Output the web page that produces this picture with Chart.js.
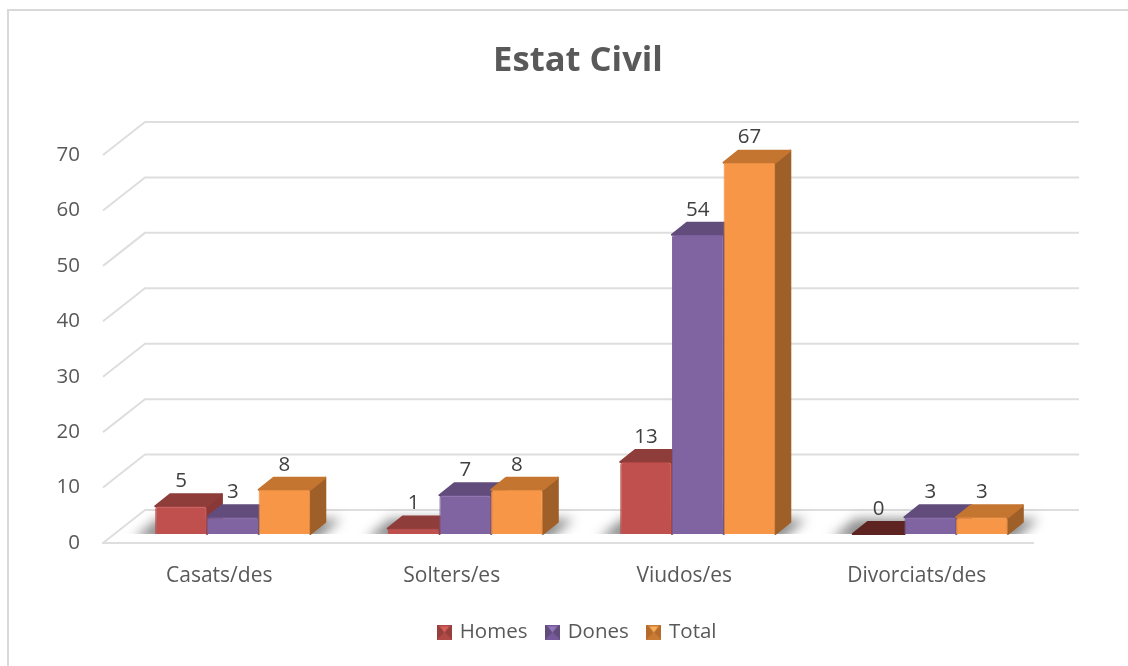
<!DOCTYPE html>
<html>
<head>
<meta charset="utf-8">
<title>Estat Civil</title>
<script src="https://cdn.jsdelivr.net/npm/chart.js@4"></script>
<style>
    html, body { margin: 0; padding: 0; background: #fff; overflow: hidden; }
    canvas { display: block; filter: blur(0.4px); }
</style>
</head>
<body>
<canvas id="myChart" width="1128" height="666"></canvas>
<script>
const categories = ['Casats/des', 'Solters/es', 'Viudos/es', 'Divorciats/des']
const homes = [5, 1, 13, 0]
const dones = [3, 7, 54, 3]
const total = [8, 8, 67, 3]

const frontColors = ['#c0504d', '#8064a2', '#f79646']
const edgeColors = ['#b04643', '#745a95', '#e88a3e']
const topColors = ['#8f3d3b', '#614c7c', '#c4752f']
const sideColors = ['#8a3836', '#5c4877', '#9f5f29']
const zeroColors = ['#5e2422', '#41324f', '#7a4516']

const font = 'Open Sans'
const gridColor = '#dedede'

// the bars stand a bit inside the floor, the wall is further back
const barShift = { x: 13.5, y: -9 }
const barDepth = { x: 15, y: -12 }
const wallLeft = { x: 42, y: -33 }
const wallRight = { x: 46, y: -33 }

const makeSwatch = (front, dark, light) => {
    let c = document.createElement('canvas')
    c.width = 15
    c.height = 15
    let g = c.getContext('2d')
    g.fillStyle = front
    g.fillRect(0, 0, 15, 15)
    g.fillStyle = dark
    g.beginPath()
    g.moveTo(0, 0); g.lineTo(7.5, 7.5); g.lineTo(0, 15); g.closePath()
    g.moveTo(15, 0); g.lineTo(7.5, 7.5); g.lineTo(15, 15); g.closePath()
    g.fill()
    g.fillStyle = light
    g.beginPath()
    g.moveTo(3, 2); g.lineTo(12, 2); g.lineTo(7.5, 8); g.closePath()
    g.fill()
    return c
}

const swatches = [
    makeSwatch('#b04a47', '#963f3d', '#d4605c'),
    makeSwatch('#75599a', '#614c7c', '#9377b8'),
    makeSwatch('#c97a33', '#b56c2b', '#fbb15c')
]

const drawFace = (ctx, points, color) => {
    ctx.fillStyle = color
    ctx.strokeStyle = color
    ctx.lineWidth = 2
    ctx.lineJoin = 'round'
    ctx.beginPath()
    points.forEach((p, i) => i ? ctx.lineTo(p[0], p[1]) : ctx.moveTo(p[0], p[1]))
    ctx.closePath()
    ctx.fill()
    ctx.stroke()
}

const wallPlugin = {
    id: 'wall',
    beforeDraw(chart) {
        const { ctx, chartArea, scales } = chart
        ctx.save()
        // only the top and left of the frame are in the picture
        ctx.strokeStyle = '#d9d9d9'
        ctx.lineWidth = 2
        ctx.beginPath()
        ctx.moveTo(8, 666)
        ctx.lineTo(8, 10)
        ctx.lineTo(1128, 10)
        ctx.stroke()

        ctx.strokeStyle = gridColor
        ctx.lineWidth = 2
        scales.y.ticks.forEach(tick => {
            let y = scales.y.getPixelForValue(tick.value)
            ctx.beginPath()
            ctx.moveTo(chartArea.left, y)
            ctx.lineTo(chartArea.left + wallLeft.x, y + wallLeft.y)
            ctx.lineTo(chartArea.right + wallRight.x, y + wallRight.y)
            ctx.stroke()
        })
        ctx.restore()
    }
}

const barsPlugin = {
    id: 'bars3d',
    beforeDatasetsDraw(chart) {
        const { ctx, scales } = chart
        const base = scales.y.getPixelForValue(0)
        ctx.save()
        ctx.translate(barShift.x, barShift.y)

        // soft shadow on the floor behind each group, cut at the bars' base
        categories.forEach((name, c) => {
            let first = chart.getDatasetMeta(0).data[c]
            let last = chart.getDatasetMeta(2).data[c]
            let x0 = first.x - first.width / 2
            let x1 = last.x + last.width / 2
            ctx.save()
            ctx.beginPath()
            ctx.rect(x0 - 60, base - 60, x1 - x0 + 120, 60)
            ctx.clip()
            ctx.filter = 'blur(6px)'
            ctx.fillStyle = 'rgba(90,90,90,0.7)'
            ctx.beginPath()
            ctx.moveTo(x0 - 22, base + 6)
            ctx.lineTo(x1 + 6, base + 6)
            ctx.lineTo(x1 + 31, base - 15)
            ctx.lineTo(x0 + 2, base - 15)
            ctx.closePath()
            ctx.fill()
            ctx.restore()
        })

        // sides and tops, left to right so the next bar covers the one before
        categories.forEach((name, c) => {
            chart.data.datasets.forEach((dataset, d) => {
                let bar = chart.getDatasetMeta(d).data[c]
                let l = bar.x - bar.width / 2
                let r = bar.x + bar.width / 2
                let top = bar.y
                let dx = barDepth.x
                let dy = barDepth.y
                let zero = dataset.data[c] === 0
                if(!zero) {
                    drawFace(ctx, [[r, top], [r + dx, top + dy], [r + dx, base + dy], [r, base]], sideColors[d])
                }
                drawFace(ctx, [[l, top], [l + dx, top + dy], [r + dx, top + dy], [r, top]], zero ? zeroColors[d] : topColors[d])
            })
        })
        // fronts are painted by the library with the same shift
    },
    afterDatasetsDraw(chart) {
        const { ctx } = chart
        ctx.restore()

        ctx.save()
        ctx.font = '20.5px "' + font + '"'
        ctx.fillStyle = '#404040'
        ctx.textAlign = 'center'
        ctx.textBaseline = 'middle'
        chart.data.datasets.forEach((dataset, d) => {
            chart.getDatasetMeta(d).data.forEach((bar, c) => {
                ctx.fillText(dataset.data[c], bar.x + barShift.x, bar.y + barShift.y - 25)
            })
        })
        ctx.restore()
    }
}

new Chart(document.getElementById('myChart'), {
    type: 'bar',
    data: {
        labels: categories,
        datasets: [
            { label: 'Homes', data: homes, backgroundColor: frontColors[0], borderColor: edgeColors[0] },
            { label: 'Dones', data: dones, backgroundColor: frontColors[1], borderColor: edgeColors[1] },
            { label: 'Total', data: total, backgroundColor: frontColors[2], borderColor: edgeColors[2] }
        ]
    },
    options: {
        responsive: false,
        animation: false,
        categoryPercentage: 0.667,
        barPercentage: 1,
        borderWidth: 1,
        borderRadius: 3,
        layout: { padding: { left: 28, right: 0, top: 0, bottom: 13.75 } },
        plugins: {
            title: {
                display: true,
                text: 'Estat Civil',
                color: '#595959',
                font: { family: font, size: 34.6, weight: 'bold', lineHeight: 1.2 },
                padding: { top: 40, bottom: 73.5 }
            },
            legend: {
                position: 'bottom',
                labels: {
                    color: '#595959',
                    font: { family: font, size: 20.5 },
                    padding: 20,
                    usePointStyle: true,
                    pointStyleWidth: 10,
                    generateLabels: (chart) => chart.data.datasets.map((dataset, i) => ({
                        text: dataset.label,
                        fontColor: '#595959',
                        pointStyle: swatches[i],
                        datasetIndex: i,
                        lineWidth: 0
                    }))
                }
            },
            tooltip: { enabled: false }
        },
        scales: {
            x: {
                grid: { display: false },
                border: { display: true, color: gridColor, width: 2 },
                ticks: { color: '#595959', font: { family: font, size: 21 }, padding: 12, maxRotation: 0 },
                afterFit: (scale) => { scale.height = 58.75 }
            },
            y: {
                min: 0,
                max: 70,
                grid: { display: false, drawTicks: false },
                border: { display: false },
                ticks: { stepSize: 10, color: '#595959', font: { family: font, size: 20.5 }, padding: 23 },
                afterFit: (scale) => { scale.width = 75 }
            },
            spacer: {
                position: 'right',
                grid: { display: false, drawTicks: false },
                border: { display: false },
                ticks: { display: false },
                afterFit: (scale) => { scale.width = 95 }
            }
        }
    },
    plugins: [wallPlugin, barsPlugin]
})
</script>
</body>
</html>
